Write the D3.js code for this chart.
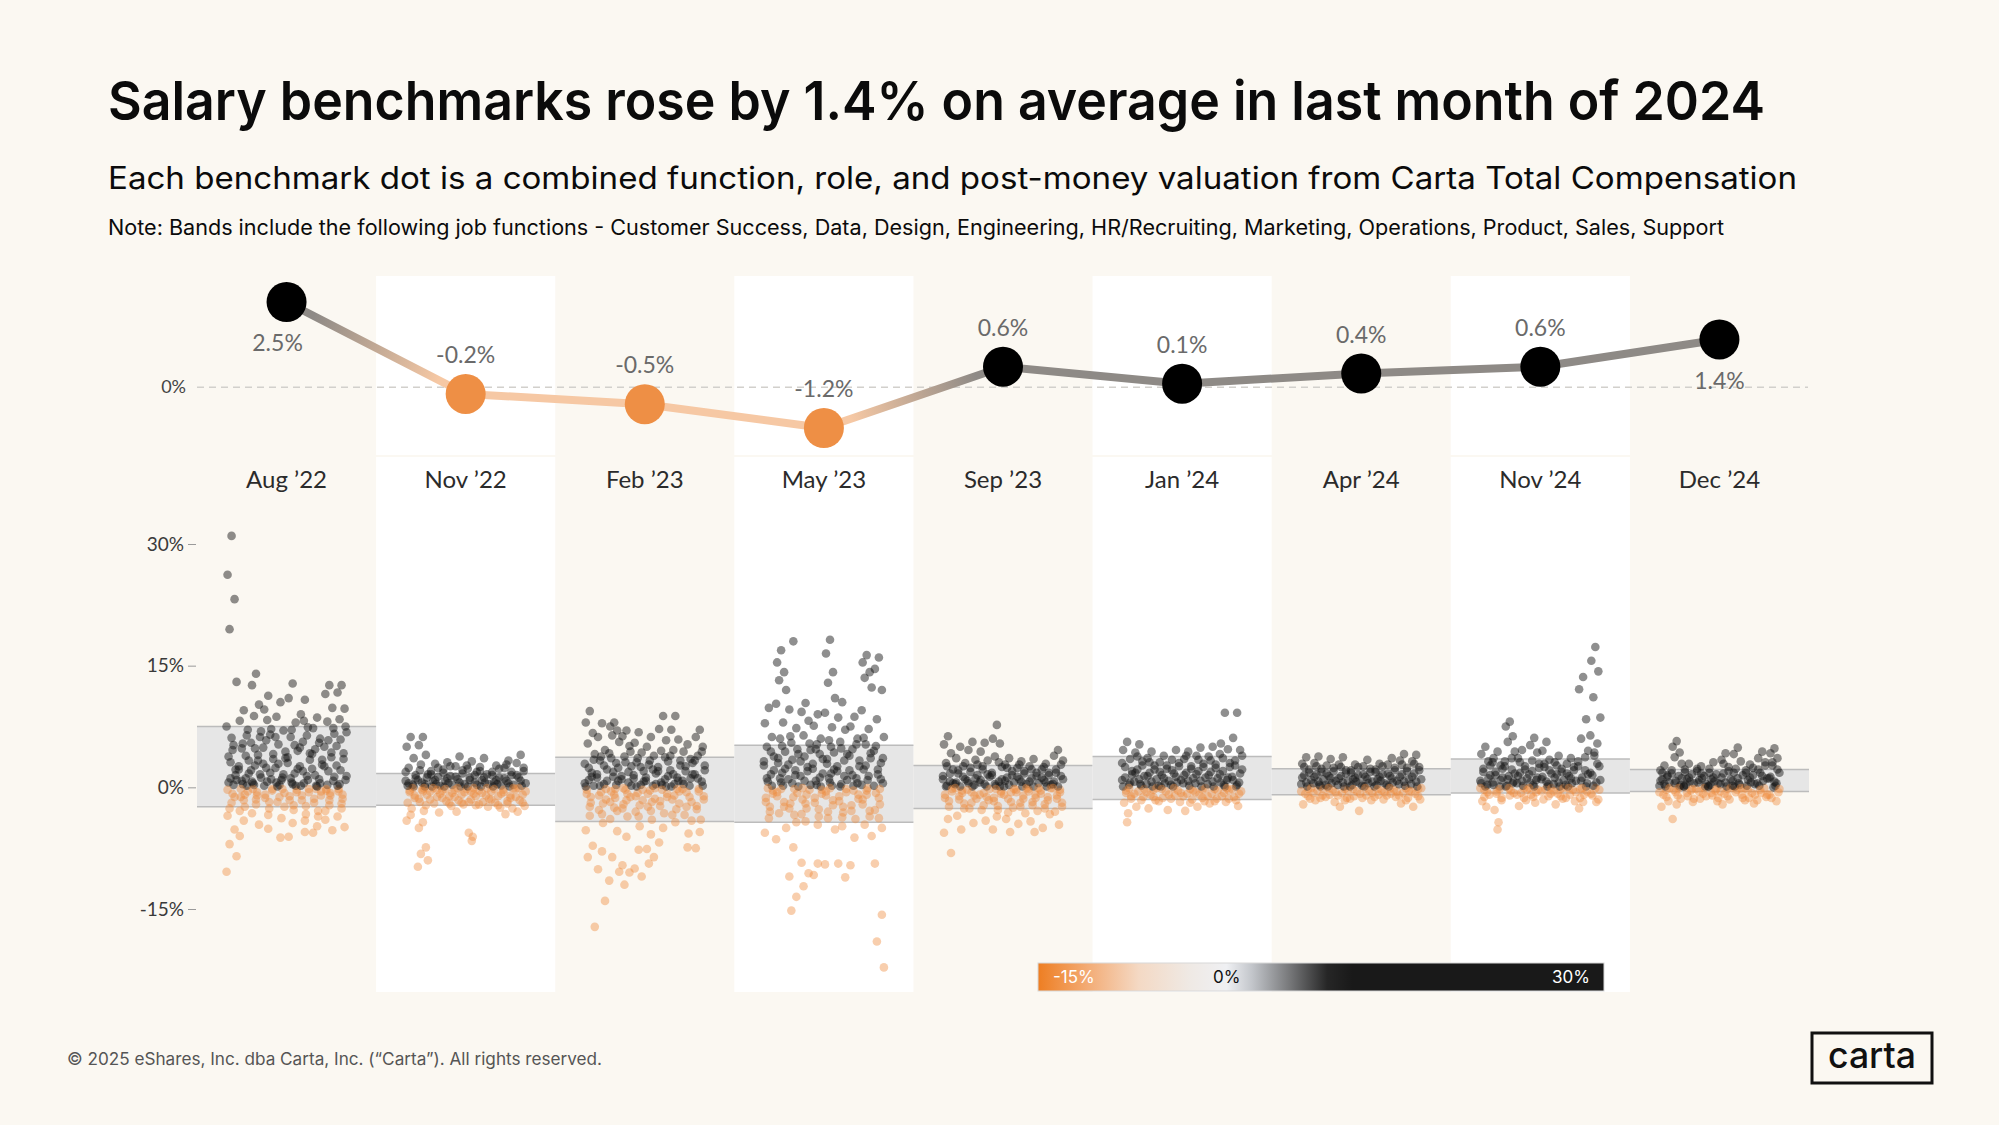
<!DOCTYPE html>
<html>
<head>
<meta charset="utf-8">
<script src="https://cdn.jsdelivr.net/npm/d3@7"></script>
<style>
	html, body { margin: 0; padding: 0; background: #fbf8f2; }
	svg { display: block; }
</style>
</head>
<body>
<svg id="chart" width="1999" height="1125"></svg>
<script>
/* global d3 */

// --- data ---
const months = ['Aug \u201922', 'Nov \u201922', 'Feb \u201923', 'May \u201923', 'Sep \u201923', 'Jan \u201924', 'Apr \u201924', 'Nov \u201924', 'Dec \u201924']
const avgChange = [2.5, -0.2, -0.5, -1.2, 0.6, 0.1, 0.4, 0.6, 1.4]
const bandHigh = [7.5, 1.7, 3.7, 5.2, 2.7, 3.8, 2.3, 3.5, 2.2]
const bandLow = [-2.4, -2.2, -4.2, -4.3, -2.6, -1.5, -0.9, -0.7, -0.5]
const yTicks = [30, 15, 0, -15]
const legendTicks = [-15, 0, 30]
const jobFunctions = ['Customer Success', 'Data', 'Design', 'Engineering', 'HR/Recruiting', 'Marketing', 'Operations', 'Product', 'Sales', 'Support']

// benchmark changes (%), one list per job function
const aug22 = [
	[31, 26.2, 23.2, 19.5, 13, 7.5, 5.2, 3.1, 1.5, 0.6, -0.8, -1.9, -3.5, -5.2, -7.0, -8.5, -10.4, 0.3, 1.1, 2.2, 3.8, 4.6, 6.1, -0.3, -1.2, -2.6, 0.9],
	[9.5, 8.2, 6.4, 4.8, 3.3, 2.2, 1.1, 0.4, -0.5, -1.2, -2.4, -4.1, -6.0, 0.2, 0.8, 1.7, 2.6, 3.9, 5.4, 7.1, -0.2, -0.9, -1.6, -2.9],
	[14, 12.6, 10.2, 8.8, 6.9, 5.5, 4.0, 2.7, 1.6, 0.5, -0.6, -1.5, -3.2, -4.6, 0.3, 1.2, 2.1, 3.3, 4.8, 6.2, -0.2, -1.0, -2.1, 0.7],
	[11.3, 9.6, 7.2, 5.8, 4.1, 2.9, 1.8, 0.7, -0.4, -1.3, -2.6, -5.1, 0.2, 1.0, 2.4, 3.5, 4.9, 6.5, 8.3, -0.2, -0.9, -1.8, -3.4],
	[10.5, 8.7, 7.0, 5.3, 3.6, 2.4, 1.2, 0.3, -0.7, -1.8, -3.8, -6.2, 0.6, 1.6, 2.9, 4.4, 6.2, -0.2, -1.2, -2.4, 0.1, 0.9],
	[12.8, 11.0, 8.0, 6.2, 4.5, 3.0, 1.7, 0.6, -0.3, -1.1, -2.8, -4.4, -6.1, 0.2, 1.1, 2.3, 3.7, 5.2, 7.1, -0.6, -1.6, -2.2, 0.4],
	[10.8, 9.0, 7.4, 5.6, 4.2, 2.6, 1.4, 0.5, -0.6, -1.6, -3.3, -5.5, 0.2, 0.9, 2.0, 3.4, 4.9, 6.4, 8.2, -0.2, -1.0, -2.3, -4.1],
	[8.6, 7.3, 6.0, 4.7, 3.4, 2.3, 1.0, 0.2, -0.5, -1.4, -2.9, -4.8, -5.6, 0.5, 1.5, 2.8, 4.1, 5.5, -0.2, -1.0, -1.9, -3.6, 0.1],
	[12.6, 11.5, 9.8, 8.1, 6.6, 5.0, 3.7, 2.0, 0.8, -0.4, -1.0, -2.2, -4.0, -5.3, 0.3, 1.3, 2.6, 4.3, 5.8, 7.3, -0.2, -0.7, -1.6, -2.9],
	[12.6, 11.7, 9.7, 8.4, 6.8, 5.1, 3.5, 2.1, 0.9, -0.2, -0.9, -2.0, -3.6, -4.9, 0.4, 1.4, 2.7, 4.2, 5.9, 7.5, -0.5, -1.4, -2.6, 0.2]
]
const nov22 = [
	[6.2, 5.0, 3.6, 2.4, 1.5, 0.8, 0.3, -0.4, -1.0, -1.9, -2.6, -3.4, -4.1, 0.1, 0.5, 1.1, 1.9, -0.1, -0.6, -1.3, 0.2],
	[6.2, 5.2, 4.0, 2.8, 1.6, 0.9, 0.4, -0.3, -0.9, -1.8, -2.9, -4.3, -5.0, -7.4, -8.2, -9.0, -9.8, 0.1, 0.6, 1.2, 2.1, -0.1, -0.5, -1.4, -2.2],
	[2.9, 2.0, 1.3, 0.7, 0.2, -0.5, -1.2, -2.0, -3.1, 0.1, 0.4, 0.9, 1.6, 2.4, -0.1, -0.8, -1.5, -0.3],
	[3.1, 2.2, 1.4, 0.8, 0.3, -0.4, -1.1, -1.7, -2.3, 0.1, 0.5, 1.1, 1.8, 2.6, -0.2, -0.7, -1.3, -2.0],
	[3.8, 2.6, 1.7, 1.0, 0.4, -0.3, -0.9, -1.6, -2.1, -3.0, 0.1, 0.6, 1.3, 2.1, -0.1, -0.6, -1.2, -1.9],
	[3.2, 2.3, 1.5, 0.9, 0.3, -0.2, -0.8, -1.5, -2.2, -5.6, -6.1, -6.6, 0.1, 0.6, 1.2, 1.9, 2.7, -0.1, -0.5, -1.1, -1.8],
	[3.6, 2.5, 1.6, 0.9, 0.4, -0.4, -1.0, -1.8, -2.4, 0.1, 0.6, 1.2, 2.0, -0.1, -0.7, -1.4, -2.1],
	[2.7, 1.9, 1.2, 0.6, 0.2, -0.5, -1.1, -1.9, -2.5, 0.1, 0.4, 0.9, 1.5, 2.3, -0.2, -0.8, -1.5, -2.2],
	[3.3, 2.4, 1.5, 0.8, 0.3, -0.3, -1.0, -1.7, -2.6, -3.3, 0.1, 0.5, 1.1, 1.9, 2.8, -0.1, -0.6, -1.3, -2.0],
	[4.0, 3.0, 2.0, 1.2, 0.5, -0.2, -0.9, -1.6, -2.3, -3.0, 0.2, 0.8, 1.5, 2.4, -0.1, -0.5, -1.2, -1.9]
]
const feb23 = [
	[9.4, 8.0, 6.7, 5.4, 4.1, 2.9, 1.8, 0.9, 0.2, -0.8, -1.9, -3.5, -5.3, -7.2, -8.6, -17.2, 0.5, 1.3, 2.4, 3.4, -0.3, -1.2, -2.4, 0.1],
	[7.9, 6.2, 4.6, 3.3, 2.2, 1.2, 0.4, -0.6, -1.5, -2.8, -4.4, -7.9, -10.1, -14.0, 0.2, 0.8, 1.6, 2.7, 3.8, -0.2, -1.0, -2.0, -3.3],
	[8.0, 7.5, 7.0, 6.4, 5.6, 4.2, 3.0, 1.9, 0.8, -0.5, -1.3, -2.5, -3.9, -5.4, -8.6, -10.4, -11.5, 0.3, 1.3, 2.4, 3.6, -0.2, -0.9, -1.8, -2.9],
	[7.0, 6.3, 5.1, 3.8, 2.6, 1.4, 0.6, -0.3, -1.2, -2.1, -3.6, -6.1, -9.6, -10.5, -12.0, 0.2, 1.0, 1.9, 3.1, 4.4, -0.1, -0.8, -1.6, -2.6],
	[6.8, 5.5, 4.3, 3.1, 2.0, 1.1, 0.3, -0.7, -1.6, -3.0, -4.8, -7.7, -10.0, -11.0, 0.1, 0.7, 1.5, 2.5, 3.6, -0.3, -1.1, -2.2, -3.6],
	[6.2, 5.0, 3.9, 2.8, 1.7, 0.8, 0.2, -0.4, -1.4, -2.4, -4.0, -5.8, -7.6, -8.6, -9.4, 0.4, 1.2, 2.2, 3.3, -0.1, -0.8, -1.8, -2.9],
	[8.8, 7.2, 5.8, 4.5, 3.2, 2.0, 1.0, 0.3, -0.8, -1.7, -3.2, -5.0, -6.8, 0.1, 0.6, 1.4, 2.5, 3.7, -0.3, -1.2, -2.3],
	[8.8, 7.1, 5.9, 4.6, 3.3, 2.1, 1.2, 0.4, -0.5, -1.5, -2.7, -4.3, 0.1, 0.8, 1.6, 2.7, 3.9, -0.2, -1.0, -2.0, -3.4],
	[5.3, 4.4, 3.5, 2.6, 1.6, 0.8, 0.2, -0.6, -1.8, -3.4, -5.7, -7.4, 0.4, 1.1, 2.0, 3.0, -0.2, -1.2, -2.4, -4.1],
	[7.1, 6.2, 5.0, 3.9, 2.7, 1.6, 0.7, -0.2, -1.1, -2.3, -4.0, -5.5, -7.5, 0.2, 1.1, 2.1, 3.3, 4.4, -0.5, -1.5, -2.7]
]
const may23 = [
	[9.8, 7.9, 6.2, 5.0, 3.8, 2.7, 1.6, 0.7, -0.4, -1.3, -2.4, -3.8, -5.6, 0.2, 1.1, 2.1, 3.2, 4.4, -0.1, -0.8, -1.8, -3.0],
	[16.9, 15.4, 14.2, 13.2, 12.0, 10.3, 8.0, 6.0, 4.4, 3.0, 1.8, 0.6, -0.6, -1.8, -3.2, -5.0, -6.4, 0.2, 1.1, 2.3, 3.6, 5.1, -0.2, -1.1, -2.4],
	[18.0, 9.6, 7.3, 5.5, 4.1, 2.8, 1.5, 0.5, -0.7, -2.0, -3.4, -7.4, -11.0, -13.5, -15.2, 0.1, 1.0, 2.1, 3.4, 4.7, 6.3, -0.2, -1.2, -2.6, -4.3],
	[10.4, 9.3, 8.2, 6.4, 4.6, 3.2, 2.0, 0.8, -0.3, -1.5, -2.6, -4.2, -9.3, -10.6, -12.2, 0.3, 1.4, 2.5, 3.8, 5.4, -0.1, -0.9, -2.0, -3.3],
	[9.0, 7.6, 6.0, 4.7, 3.5, 2.3, 1.2, 0.3, -0.8, -1.9, -3.6, -9.4, -10.8, 0.1, 0.8, 1.7, 2.9, 4.1, 5.3, -0.3, -1.3, -2.7, -4.6],
	[18.2, 16.5, 14.2, 12.9, 11.0, 9.2, 7.4, 5.8, 4.3, 2.9, 1.7, 0.6, -0.5, -1.6, -3.0, -5.2, -9.5, 0.2, 1.1, 2.2, 3.5, 5.0, -0.1, -1.0, -2.2, -3.8],
	[10.5, 8.6, 7.1, 5.6, 4.1, 2.6, 1.4, 0.4, -0.6, -1.7, -3.1, -4.8, -9.4, -11.1, 0.1, 0.9, 2.0, 3.3, 4.8, -0.2, -1.1, -2.4, -3.7],
	[8.7, 7.5, 6.0, 4.7, 3.3, 2.1, 1.1, 0.2, -0.9, -2.2, -3.9, -6.2, -9.6, 0.5, 1.5, 2.6, 3.9, 5.3, -0.4, -1.4, -2.9],
	[16.3, 15.4, 14.2, 13.5, 12.3, 9.5, 7.2, 5.3, 3.6, 2.2, 0.9, -0.4, -1.5, -2.9, -4.6, -6.0, 0.3, 1.4, 2.7, 4.2, 6.1, -0.1, -0.9, -2.1, -3.6],
	[16.0, 14.6, 12.0, 8.4, 6.2, 4.5, 3.0, 1.6, 0.5, -0.7, -2.1, -3.8, -9.4, -15.7, -19.0, -22.2, 0.2, 1.0, 2.2, 3.6, 5.1, -0.2, -1.3, -2.8, -5.0]
]
const sep23 = [
	[6.3, 5.3, 4.2, 3.0, 2.2, 1.4, 0.7, 0.2, -0.5, -1.3, -2.4, -3.9, -5.6, -8.1, 0.1, 0.5, 1.0, 1.7, 2.6, -0.2, -0.9, -1.7],
	[5.0, 3.6, 2.6, 1.7, 1.0, 0.4, -0.4, -1.1, -2.0, -3.5, -5.2, 0.1, 0.6, 1.3, 2.1, 3.0, -0.1, -0.7, -1.5, -2.6],
	[5.6, 4.6, 3.4, 2.4, 1.5, 0.8, 0.3, -0.6, -1.4, -2.6, -4.4, 0.1, 0.5, 1.1, 1.9, 2.8, -0.3, -1.0, -1.9],
	[5.5, 4.4, 3.3, 2.2, 1.3, 0.6, 0.1, -0.7, -1.6, -2.8, -4.1, 0.4, 0.9, 1.6, 2.6, -0.2, -0.9, -1.2, -2.2],
	[7.7, 6.0, 5.4, 3.8, 2.5, 1.5, 0.7, 0.2, -0.5, -1.3, -2.3, -3.6, -5.2, 0.1, 0.4, 1.0, 1.8, 3.1, -0.2, -0.8, -1.7, -2.8],
	[3.6, 2.8, 2.0, 1.2, 0.6, 0.1, -0.6, -1.4, -2.5, -3.9, -5.5, 0.3, 0.8, 1.5, 2.4, -0.2, -0.9, -1.8, -3.1],
	[3.2, 2.4, 1.7, 1.0, 0.4, -0.3, -1.0, -1.9, -3.2, -4.5, 0.1, 0.7, 1.3, 2.0, 2.8, -0.1, -0.6, -1.4, -2.4],
	[3.5, 2.6, 1.8, 1.1, 0.5, -0.2, -0.9, -1.8, -2.9, -4.2, -5.5, 0.1, 0.7, 1.4, 2.2, -0.1, -0.5, -1.3, -2.2],
	[2.9, 2.2, 1.5, 0.9, 0.3, -0.4, -1.2, -2.1, -3.3, -5.0, 0.1, 0.6, 1.2, 1.8, 2.5, -0.1, -0.8, -1.6, -2.6],
	[4.6, 3.9, 2.8, 1.8, 1.0, 0.4, -0.3, -1.0, -1.9, -3.0, -4.6, 0.1, 0.7, 1.4, 2.2, 3.3, -0.1, -0.6, -1.4, -2.4]
]
const jan24 = [
	[5.6, 4.6, 3.5, 2.5, 1.6, 0.9, 0.3, -0.4, -1.1, -1.9, -3.2, -4.3, 0.1, 0.6, 1.2, 2.0, 3.0, -0.1, -0.7, -1.4],
	[5.3, 4.3, 3.2, 2.2, 1.4, 0.7, 0.2, -0.5, -1.2, -2.4, 0.4, 1.0, 1.8, 2.7, 3.8, -0.2, -0.8, -1.6],
	[4.4, 3.6, 2.7, 1.8, 1.0, 0.4, -0.3, -0.9, -1.6, -2.6, 0.1, 0.7, 1.4, 2.2, 3.1, -0.1, -0.6, -1.2],
	[3.9, 3.1, 2.3, 1.5, 0.8, 0.2, -0.5, -1.3, -2.8, 0.1, 0.5, 1.1, 1.9, 2.7, -0.2, -0.9, -1.7],
	[4.6, 3.4, 2.6, 1.7, 0.9, 0.3, -0.4, -1.0, -1.8, 0.1, 0.6, 1.3, 2.1, 3.0, -0.1, -0.7, -1.4],
	[4.4, 3.5, 2.6, 1.8, 1.1, 0.5, -0.2, -0.8, -1.5, -2.9, 0.2, 0.8, 1.5, 2.3, 3.9, -0.4, -1.1, -1.9],
	[4.9, 3.9, 2.9, 2.0, 1.2, 0.5, -0.3, -0.9, -1.7, -2.4, 0.1, 0.8, 1.6, 2.5, 3.4, -0.1, -0.6, -1.3],
	[5.0, 3.8, 2.8, 1.9, 1.1, 0.4, -0.2, -0.8, -1.4, -2.0, 0.1, 0.7, 1.5, 2.4, 3.3, -0.4, -1.1, -1.7],
	[9.2, 5.4, 4.7, 3.6, 2.5, 1.6, 0.9, 0.3, -0.4, -1.1, -1.8, 0.1, 0.6, 1.2, 2.0, 3.0, 4.1, -0.1, -0.7, -1.4],
	[9.2, 6.1, 4.6, 3.3, 2.2, 1.3, 0.6, 0.1, -0.5, -1.2, -2.3, 0.3, 0.9, 1.7, 2.7, 3.9, -0.2, -0.8, -1.6]
]
const apr24 = [
	[3.7, 2.9, 2.2, 1.5, 0.9, 0.4, -0.2, -0.8, -1.4, -2.1, 0.1, 0.6, 1.2, 1.8, 2.5, -0.1, -0.5, -1.1],
	[3.8, 3.0, 2.3, 1.6, 1.0, 0.5, 0.1, -0.4, -1.0, -1.6, 0.3, 0.7, 1.3, 1.9, 2.6, -0.2, -0.7, -1.3],
	[3.5, 2.7, 2.0, 1.4, 0.8, 0.3, -0.3, -0.9, -1.8, 0.1, 0.5, 1.1, 1.7, 2.4, -0.1, -0.6, -1.2],
	[3.7, 2.8, 2.1, 1.4, 0.8, 0.3, -0.2, -0.7, -1.3, -2.4, 0.1, 0.6, 1.1, 1.7, 2.5, -0.4, -1.0, -1.6],
	[2.8, 2.1, 1.5, 1.0, 0.5, 0.1, -0.5, -1.1, -2.9, 0.3, 0.7, 1.2, 1.8, 2.5, -0.2, -0.8, -1.4],
	[3.4, 2.6, 1.9, 1.3, 0.7, 0.2, -0.4, -1.0, -1.6, 0.1, 0.5, 1.0, 1.6, 2.3, -0.1, -0.7, -1.3],
	[2.9, 2.2, 1.6, 1.0, 0.5, 0.1, -0.4, -0.9, -1.5, 0.3, 0.8, 1.3, 1.9, 2.6, -0.2, -0.6, -1.2],
	[3.6, 2.8, 2.1, 1.4, 0.8, 0.3, -0.3, -0.8, -1.2, 0.1, 0.6, 1.1, 1.7, 2.4, -0.1, -0.5, -1.0],
	[4.1, 3.3, 2.4, 1.6, 1.0, 0.4, -0.1, -0.7, -1.3, -2.0, 0.2, 0.7, 1.3, 2.0, 2.8, -0.4, -1.0, -1.6],
	[4.0, 3.2, 2.5, 1.7, 1.0, 0.4, -0.2, -0.8, -1.5, -2.4, 0.1, 0.7, 1.3, 2.1, 2.9, -0.1, -0.5, -1.1]
]
const nov24 = [
	[5.0, 4.1, 3.2, 2.3, 1.5, 0.8, 0.3, -0.3, -0.9, -1.7, -2.4, 0.1, 0.5, 1.1, 1.9, 2.7, -0.1, -0.6, -1.2],
	[4.4, 3.6, 2.7, 1.9, 1.2, 0.6, 0.1, -0.5, -1.3, -2.8, -4.3, -5.2, 0.3, 0.9, 1.5, 2.3, 3.1, -0.2, -0.8, -1.6],
	[8.1, 7.5, 6.3, 5.6, 4.4, 3.2, 2.2, 1.4, 0.7, 0.2, -0.4, -1.0, 0.1, 0.5, 1.0, 1.7, 2.6, 3.6, -0.1, -0.7],
	[4.6, 3.6, 2.6, 1.8, 1.1, 0.5, -0.1, -0.7, -1.6, -2.3, 0.2, 0.8, 1.4, 2.2, 3.1, -0.3, -0.9, -1.3],
	[6.1, 5.2, 4.3, 3.3, 2.4, 1.6, 0.9, 0.3, -0.3, -0.9, -1.9, 0.1, 0.6, 1.2, 2.0, 2.9, -0.1, -0.6, -1.2],
	[5.6, 4.5, 3.4, 2.5, 1.7, 1.0, 0.4, -0.2, -0.8, -1.5, 0.1, 0.7, 1.3, 2.1, 2.9, -0.1, -0.5, -1.1],
	[3.9, 3.1, 2.3, 1.6, 0.9, 0.4, -0.2, -0.8, -1.4, -2.1, 0.1, 0.6, 1.2, 1.9, 2.7, -0.1, -0.5, -1.1],
	[3.6, 2.9, 2.1, 1.4, 0.8, 0.3, -0.3, -0.9, -1.7, 0.1, 0.5, 1.1, 1.7, 2.5, -0.1, -0.6, -1.3],
	[13.6, 12.1, 8.4, 6.0, 4.5, 3.2, 2.1, 1.2, 0.5, -0.2, -0.9, -1.8, -2.6, 0.1, 0.8, 1.6, 2.6, 3.7, -0.1, -0.5, -1.3],
	[17.3, 15.6, 14.3, 11.1, 8.6, 6.4, 5.4, 3.9, 2.6, 1.5, 0.6, -0.1, -0.8, -1.5, 0.2, 0.9, 1.8, 2.9, 4.3, -0.3, -1.0, -1.8]
]
const dec24 = [
	[2.7, 2.1, 1.5, 1.0, 0.6, 0.2, -0.3, -0.9, -1.7, -2.4, 0.1, 0.4, 0.8, 1.3, 1.8, -0.1, -0.6, -1.2],
	[5.7, 5.0, 4.3, 3.7, 2.9, 2.1, 1.4, 0.8, 0.3, -0.3, -1.0, -2.1, -3.9, 0.1, 0.5, 1.1, 1.7, -0.1, -0.6, -1.4],
	[2.9, 2.2, 1.6, 1.0, 0.5, 0.1, -0.4, -1.1, -1.8, 0.3, 0.7, 1.2, 1.9, -0.2, -0.7, -1.4, 0.1],
	[2.6, 2.0, 1.4, 0.9, 0.4, -0.2, -0.8, -1.4, 0.1, 0.6, 1.1, 1.7, 2.3, -0.1, -0.5, -1.1],
	[3.1, 2.3, 1.6, 1.0, 0.5, 0.1, -0.4, -1.0, -1.7, 0.3, 0.7, 1.2, 1.8, -0.2, -0.7, -1.3, 0.1],
	[4.2, 3.4, 2.5, 1.7, 1.0, 0.4, -0.2, -0.8, -1.5, -2.1, 0.1, 0.6, 1.2, 2.0, 2.9, -0.1, -0.5, -1.1],
	[4.9, 4.1, 3.2, 2.3, 1.5, 0.8, 0.3, -0.3, -0.9, 0.1, 0.5, 1.1, 1.8, -0.1, -0.6, -1.3, 0.2],
	[2.8, 2.1, 1.5, 0.9, 0.4, -0.1, -0.7, -1.3, -2.0, 0.2, 0.6, 1.2, 1.8, 2.4, -0.3, -0.9, -1.6],
	[4.4, 3.6, 2.7, 1.8, 1.1, 0.5, -0.1, -0.7, -1.2, 0.2, 0.8, 1.4, 2.2, 3.1, -0.3, -0.9, -1.6],
	[4.8, 4.2, 3.6, 2.7, 1.8, 1.1, 0.5, 0.0, -0.6, -1.3, 0.2, 0.7, 1.3, 2.2, 3.1, -0.2, -0.9, -1.7]
]
const benchmarks = [aug22, nov22, feb23, may23, sep23, jan24, apr24, nov24, dec24]

// --- setup ---
const cream = '#fbf8f2'
const orange = '#ee8f45'
const font = 'Inter, "Noto Sans", sans-serif'
const labelFont = 'Lato, "Open Sans", sans-serif'

const svg = d3.select('#chart')

svg.append('rect')
	.attr('width', 1999)
	.attr('height', 1125)
	.attr('fill', cream)

const x = d3.scaleBand().domain(months).range([197, 1809])
const strip = d3.scalePoint().domain(jobFunctions).range([-55, 55])
const yTop = d3.scaleLinear().domain([-1.2, 2.5]).range([428, 302])
const y = d3.scaleLinear().domain([-15, 30]).range([909, 544])
const cx = d => x(d) + x.bandwidth() / 2
// small horizontal spread inside each job-function strip
const jitter = [0, -4, 3, -2, 5, -5, 2, -1, 4, -3, 1]

// --- titles ---
const heading = svg.append('g').attr('font-family', font).attr('fill', '#0b0b0b')

heading.append('text')
	.attr('x', 108)
	.attr('y', 120)
	.attr('font-size', 54)
	.attr('font-weight', 600)
	.attr('textLength', 1657)
	.attr('lengthAdjust', 'spacingAndGlyphs')
	.text('Salary benchmarks rose by 1.4% on average in last month of 2024')

heading.append('text')
	.attr('x', 108)
	.attr('y', 189)
	.attr('font-size', 31)
	.attr('textLength', 1689)
	.attr('lengthAdjust', 'spacingAndGlyphs')
	.text('Each benchmark dot is a combined function, role, and post-money valuation from Carta Total Compensation')

heading.append('text')
	.attr('x', 108)
	.attr('y', 235)
	.attr('font-size', 21)
	.attr('textLength', 1616)
	.attr('lengthAdjust', 'spacingAndGlyphs')
	.text('Note:  Bands include the following job functions - Customer Success, Data, Design, Engineering, HR/Recruiting, Marketing, Operations, Product,  Sales, Support')

// --- alternating white columns ---
const shaded = months.filter((d, i) => i % 2 === 1)

svg.append('g')
	.selectAll('rect')
	.data(shaded)
	.join('rect')
	.attr('x', d => x(d))
	.attr('width', x.bandwidth())
	.attr('y', 276)
	.attr('height', 179)
	.attr('fill', '#ffffff')

svg.append('g')
	.selectAll('rect')
	.data(shaded)
	.join('rect')
	.attr('x', d => x(d))
	.attr('width', x.bandwidth())
	.attr('y', 457)
	.attr('height', 535)
	.attr('fill', '#ffffff')

// --- top panel: average change line ---
const topPanel = svg.append('g')

topPanel.append('line')
	.attr('x1', 197)
	.attr('x2', 1808)
	.attr('y1', yTop(0))
	.attr('y2', yTop(0))
	.attr('stroke', '#d2d0cc')
	.attr('stroke-width', 1.5)
	.attr('stroke-dasharray', '7 5')

topPanel.append('text')
	.attr('x', 186)
	.attr('y', yTop(0))
	.attr('dy', '0.35em')
	.attr('text-anchor', 'end')
	.attr('font-family', labelFont)
	.attr('font-size', 18)
	.attr('fill', '#444')
	.text('0%')

const lineColor = v => (v >= 0 ? '#8e8a86' : '#f6c8a4')
const segments = d3.pairs(avgChange.map((v, i) => ({ v, m: months[i] })))
const defs = svg.append('defs')

segments.forEach(([a, b], i) => {
	const grad = defs.append('linearGradient')
		.attr('id', `seg${i}`)
		.attr('gradientUnits', 'userSpaceOnUse')
		.attr('x1', cx(a.m))
		.attr('y1', yTop(a.v))
		.attr('x2', cx(b.m))
		.attr('y2', yTop(b.v))
	grad.append('stop').attr('offset', 0.15).attr('stop-color', lineColor(a.v))
	grad.append('stop').attr('offset', 0.85).attr('stop-color', lineColor(b.v))
})

topPanel.append('g')
	.selectAll('line')
	.data(segments)
	.join('line')
	.attr('x1', d => cx(d[0].m))
	.attr('y1', d => yTop(d[0].v))
	.attr('x2', d => cx(d[1].m))
	.attr('y2', d => yTop(d[1].v))
	.attr('stroke', (d, i) => `url(#seg${i})`)
	.attr('stroke-width', 8)
	.attr('stroke-linecap', 'round')

topPanel.append('g')
	.selectAll('circle')
	.data(avgChange)
	.join('circle')
	.attr('cx', (d, i) => cx(months[i]))
	.attr('cy', d => yTop(d))
	.attr('r', 20)
	.attr('fill', d => (d >= 0 ? '#000' : orange))

const labelsBelow = new Set([0, 8])

topPanel.append('g')
	.selectAll('text')
	.data(avgChange)
	.join('text')
	.attr('x', (d, i) => cx(months[i]) - (i === 0 ? 9 : 0))
	.attr('y', (d, i) => yTop(d) + (labelsBelow.has(i) ? 41 : -39))
	.attr('dy', '0.35em')
	.attr('text-anchor', 'middle')
	.attr('font-family', labelFont)
	.attr('font-size', 23)
	.attr('fill', '#6a6a6a')
	.text(d => `${d.toFixed(1)}%`)

topPanel.append('g')
	.selectAll('text')
	.data(months)
	.join('text')
	.attr('x', d => cx(d))
	.attr('y', 488)
	.attr('text-anchor', 'middle')
	.attr('font-family', labelFont)
	.attr('font-size', 24)
	.attr('fill', '#2b2b2b')
	.text(d => d)

// --- bottom panel: benchmark dots ---
const lowerPanel = svg.append('g')

const axis = lowerPanel.append('g')
	.attr('transform', 'translate(196,0)')
	.call(d3.axisLeft(y).tickValues(yTicks).tickFormat(d => `${d}%`).tickSize(8).tickPadding(4))

axis.select('.domain').remove()
axis.selectAll('line').attr('stroke', '#9a9a9a')
axis.selectAll('text')
	.attr('font-family', labelFont)
	.attr('font-size', 19)
	.attr('fill', '#3a3a3a')

const bands = lowerPanel.append('g')
	.selectAll('g')
	.data(months)
	.join('g')

bands.append('rect')
	.attr('x', d => x(d))
	.attr('width', x.bandwidth())
	.attr('y', (d, i) => y(bandHigh[i]))
	.attr('height', (d, i) => y(bandLow[i]) - y(bandHigh[i]))
	.attr('fill', '#e6e6e6')

bands.selectAll('line')
	.data((d, i) => [bandHigh[i], bandLow[i]].map(v => ({ m: d, v })))
	.join('line')
	.attr('x1', d => x(d.m))
	.attr('x2', d => x(d.m) + x.bandwidth())
	.attr('y1', d => y(d.v))
	.attr('y2', d => y(d.v))
	.attr('stroke', '#bcbcbc')
	.attr('stroke-width', 1.5)

const points = []
benchmarks.forEach((fns, mi) => {
	fns.forEach((vals, fi) => {
		vals.forEach((v, j) => points.push({ m: months[mi], fn: jobFunctions[fi], j, v }))
	})
})

lowerPanel.append('g')
	.selectAll('circle')
	.data(points)
	.join('circle')
	.attr('cx', d => cx(d.m) + strip(d.fn) + jitter[d.j % jitter.length])
	.attr('cy', d => y(d.v))
	.attr('r', 4.3)
	.attr('fill', d => (d.v >= 0 ? '#151515' : '#ef8a3c'))
	.attr('fill-opacity', d => (d.v >= 0 ? 0.48 : 0.42))

// --- colour legend ---
const legendX = d3.scaleLinear().domain([-15, 30]).range([1038, 1604])
const legendStops = [
	[-15, '#ee7e22'], [-11, '#f3ac76'], [-7, '#f4d9c4'], [-3, '#efe9e4'], [0, '#eff0f3'],
	[2, '#c3c6cb'], [5, '#77787a'], [8, '#262626'], [10, '#191919'], [30, '#191919']
]

const legendGrad = defs.append('linearGradient')
	.attr('id', 'legend')
	.attr('gradientUnits', 'userSpaceOnUse')
	.attr('x1', legendX(-15))
	.attr('x2', legendX(30))

legendGrad.selectAll('stop')
	.data(legendStops)
	.join('stop')
	.attr('offset', d => (d[0] + 15) / 45)
	.attr('stop-color', d => d[1])

const legend = svg.append('g')

legend.append('rect')
	.attr('x', legendX(-15))
	.attr('y', 963)
	.attr('width', legendX(30) - legendX(-15))
	.attr('height', 28)
	.attr('fill', 'url(#legend)')
	.attr('stroke', '#d8d8d8')

legend.selectAll('text')
	.data(legendTicks)
	.join('text')
	.attr('x', d => legendX(d) + (d === -15 ? 15 : d === 30 ? -14 : 0))
	.attr('y', 977)
	.attr('dy', '0.35em')
	.attr('text-anchor', d => (d === -15 ? 'start' : d === 30 ? 'end' : 'middle'))
	.attr('font-family', font)
	.attr('font-size', 17)
	.attr('fill', d => (d === 0 ? '#111' : '#fff'))
	.text(d => `${d}%`)

// --- footer ---
svg.append('text')
	.attr('x', 67)
	.attr('y', 1065)
	.attr('font-family', font)
	.attr('font-size', 17)
	.attr('fill', '#555')
	.attr('textLength', 535)
	.attr('lengthAdjust', 'spacingAndGlyphs')
	.text('\u00a9 2025 eShares, Inc. dba Carta, Inc. (\u201cCarta\u201d). All rights reserved.')

const logo = svg.append('g')

logo.append('rect')
	.attr('x', 1812)
	.attr('y', 1033)
	.attr('width', 120)
	.attr('height', 50)
	.attr('fill', 'none')
	.attr('stroke', '#111')
	.attr('stroke-width', 3)

logo.append('text')
	.attr('x', 1872)
	.attr('y', 1068)
	.attr('text-anchor', 'middle')
	.attr('font-family', font)
	.attr('font-size', 36)
	.attr('font-weight', 500)
	.attr('fill', '#111')
	.attr('textLength', 88)
	.attr('lengthAdjust', 'spacingAndGlyphs')
	.text('carta')
</script>
</body>
</html>
